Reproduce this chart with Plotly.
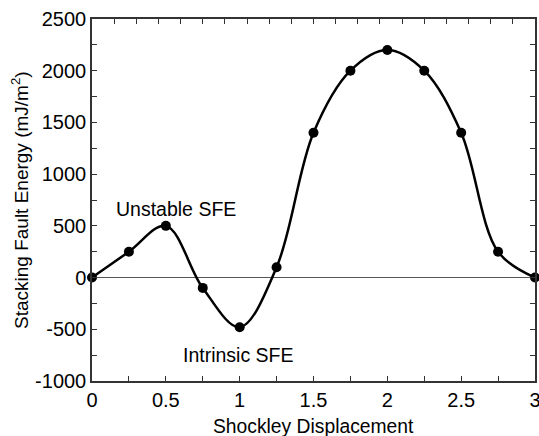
import plotly.graph_objects as go

displacement = [0, 0.25, 0.5, 0.75, 1.0, 1.25, 1.5, 1.75, 2.0, 2.25, 2.5, 2.75, 3.0]
sfe = [0, 250, 500, -100, -480, 100, 1400, 2000, 2200, 2000, 1400, 250, 0]

x_ticks = [0, 0.5, 1, 1.5, 2, 2.5, 3]
x_tick_labels = ["0", "0.5", "1", "1.5", "2", "2.5", "3"]
y_ticks = [-1000, -500, 0, 500, 1000, 1500, 2000, 2500]
y_tick_labels = ["-1000", "-500", "0", "500", "1000", "1500", "2000", "2500"]

font = "Liberation Sans, Arial, sans-serif"
axc = "#333"

fig = go.Figure()
fig.add_trace(go.Scatter(
    x=displacement, y=sfe, mode="lines+markers",
    line=dict(color="black", width=2.5, shape="spline", smoothing=1.0),
    marker=dict(color="black", size=10),
    showlegend=False, cliponaxis=False,
))
# invisible trace to activate top/right mirror axes
fig.add_trace(go.Scatter(x=[0, 3], y=[-1000, 2500], xaxis="x2", yaxis="y2",
                         mode="markers", marker=dict(opacity=0), showlegend=False,
                         hoverinfo="skip"))

fig.update_layout(
    width=539, height=436,
    margin=dict(l=92, r=4, t=19, b=55),
    paper_bgcolor="white", plot_bgcolor="white",
    font=dict(family=font, size=19, color="black"),
    xaxis=dict(
        range=[0, 3], tickvals=x_ticks, ticktext=x_tick_labels,
        showgrid=False, zeroline=False,
        showline=True, linecolor=axc, linewidth=1.5,
        ticks="inside", ticklen=5, tickcolor=axc,
        minor=dict(dtick=0.25, ticks="inside", ticklen=5, tickcolor=axc),
        tickfont=dict(size=20), ticklabeloverflow="allow", automargin=False,
    ),
    yaxis=dict(
        range=[-1000, 2500], tickvals=y_ticks, ticktext=y_tick_labels,
        showgrid=False, zeroline=True, zerolinecolor="#555", zerolinewidth=1.2,
        showline=True, linecolor=axc, linewidth=1.5,
        ticks="inside", ticklen=5, tickcolor=axc,
        minor=dict(dtick=250, ticks="inside", ticklen=5, tickcolor=axc),
        tickfont=dict(size=20), automargin=False,
    ),
    xaxis2=dict(
        range=[0, 3], overlaying="x", side="top", dtick=0.15, tick0=0,
        showticklabels=False, showgrid=False, zeroline=False,
        showline=True, linecolor=axc, linewidth=1.5,
        ticks="inside", ticklen=5, tickcolor=axc,
    ),
    yaxis2=dict(
        range=[-1000, 2500], overlaying="y", side="right", dtick=250, tick0=0,
        showticklabels=False, showgrid=False, zeroline=False,
        showline=True, linecolor=axc, linewidth=1.5,
        ticks="inside", ticklen=5, tickcolor=axc,
    ),
    annotations=[
        dict(x=0.57, y=667, text="Unstable SFE", showarrow=False, font=dict(size=19.5)),
        dict(x=0.99, y=-745, text="Intrinsic SFE", showarrow=False, font=dict(size=19.5)),
        dict(x=0.5, y=-0.125, xref="paper", yref="paper", text="Shockley Displacement",
             showarrow=False, xanchor="center", yanchor="middle", font=dict(size=19.3)),
        dict(x=-0.1625, y=0.5, xref="paper", yref="paper",
             text="Stacking Fault Energy (mJ/m<sup>2</sup>)", textangle=-90,
             showarrow=False, xanchor="center", yanchor="middle", font=dict(size=19)),
    ],
)

fig.write_html("out.html")
